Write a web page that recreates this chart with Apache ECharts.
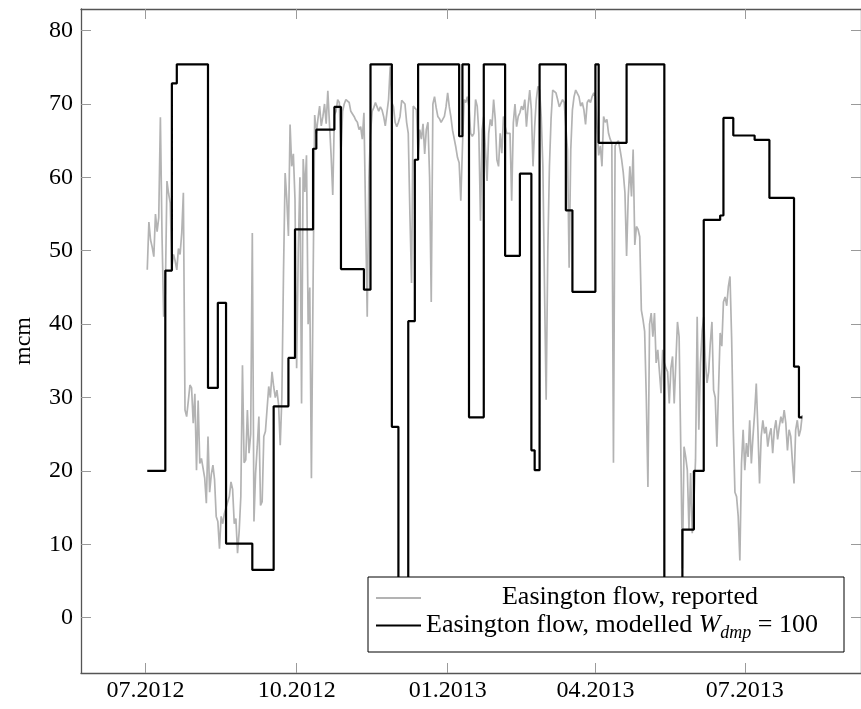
<!DOCTYPE html>
<html><head><meta charset="utf-8">
<script src="https://cdn.jsdelivr.net/npm/echarts@6/dist/echarts.min.js"></script>
<style>html,body{margin:0;padding:0;background:#fff}#c{width:861px;height:709px}</style>
</head><body><div id="c"></div>
<script>
// x values are days counted from 2012-07-01 (day 0)
const tickDays = [0, 92, 184, 274, 365];
const tickLabels = ['07.2012', '10.2012', '01.2013', '04.2013', '07.2013'];
const yTickValues = [0, 10, 20, 30, 40, 50, 60, 70, 80];

// Reported flow: one value per day, starting at day 1
const reportedStartDay = 1;
const reportedValues = [
  47.4, 53.9, 51.5, 50.5, 49.2, 55.0, 52.6, 54.5, 68.2, 52.0,
  41.0, 44.2, 59.5, 57.8, 56.5, 47.8, 49.5, 48.6, 47.4, 50.3,
  49.5, 52.4, 57.9, 28.3, 27.4, 29.5, 31.7, 31.3, 26.5, 30.5,
  20.1, 29.6, 21.0, 21.7, 21.8, 19.0, 15.6, 24.7, 17.1, 19.5,
  20.8, 18.8, 13.8, 13.1, 9.4, 13.8, 12.8, 14.2, 15.0, 15.1,
  16.5, 18.5, 17.5, 12.8, 13.5, 8.8, 11.8, 16.5, 34.4, 21.1,
  21.5, 28.3, 22.4, 25.0, 52.4, 13.1, 19.7, 23.3, 27.4, 15.3,
  15.8, 24.7, 25.4, 25.6, 31.5, 30.0, 33.5, 31.5, 30.0, 31.0,
  29.0, 23.5, 30.0, 47.0, 60.6, 57.0, 52.0, 67.2, 61.5, 63.2,
  57.0, 34.0, 50.0, 60.0, 29.2, 62.5, 58.0, 63.0, 40.0, 45.0,
  19.0, 45.0, 68.5, 66.0, 68.0, 69.7, 67.0, 68.3, 70.0, 67.3,
  71.8, 67.3, 63.0, 57.6, 68.5, 69.0, 70.6, 70.2, 63.3, 69.0,
  70.0, 70.6, 70.5, 70.2, 69.0, 68.8, 68.3, 67.8, 67.5, 66.5,
  66.9, 65.2, 68.8, 55.0, 41.0, 60.0, 66.0, 69.0, 69.5, 70.2,
  69.6, 69.0, 69.6, 69.2, 68.3, 67.0, 66.9, 70.6, 75.1, 70.2,
  69.6, 67.5, 66.9, 67.5, 68.3, 70.5, 70.6, 70.0, 67.5, 66.0,
  55.0, 45.6, 69.7, 69.5, 69.2, 62.9, 66.5, 65.2, 67.3, 63.2,
  66.5, 67.5, 60.0, 43.0, 70.0, 71.0, 69.5, 68.3, 68.0, 67.5,
  67.3, 68.3, 69.6, 71.5, 69.6, 68.2, 66.4, 66.5, 64.1, 62.7,
  62.0, 56.8, 64.0, 70.6, 70.2, 71.0, 69.6, 66.0, 65.6, 66.0,
  70.6, 69.7, 66.0, 54.1, 66.5, 68.3, 68.5, 59.5, 66.0, 67.9,
  67.0, 70.6, 67.9, 62.4, 61.5, 66.0, 63.3, 68.3, 66.9, 66.0,
  66.0, 66.0, 56.8, 67.4, 70.0, 66.9, 68.3, 68.8, 69.7, 69.2,
  70.6, 66.9, 69.7, 71.9, 69.2, 61.5, 66.9, 70.6, 72.4, 71.9,
  68.3, 61.5, 45.0, 29.7, 50.0, 61.5, 68.0, 71.9, 72.1, 71.5,
  70.6, 69.6, 69.7, 70.6, 70.2, 66.9, 63.8, 47.7, 63.8, 69.2,
  71.0, 71.9, 72.1, 71.0, 69.7, 70.2, 69.2, 67.2, 70.2, 70.6,
  70.2, 71.0, 71.5, 71.0, 71.0, 63.0, 64.3, 61.5, 68.3, 67.5,
  67.9, 66.0, 65.2, 64.7, 21.1, 64.3, 64.7, 65.0, 63.8, 62.4,
  60.6, 57.9, 49.3, 57.4, 61.5, 57.4, 63.8, 50.8, 53.3, 52.9,
  51.9, 41.9, 40.6, 39.0, 30.0, 17.8, 40.0, 41.5, 38.3, 41.5,
  34.7, 36.5, 36.5, 30.6, 36.5, 34.7, 34.0, 33.5, 29.2, 34.0,
  35.6, 29.2, 34.7, 40.3, 38.3, 23.3, 6.7, 23.3, 21.9, 20.1,
  12.0, 19.7, 11.5, 15.8, 21.5, 41.0, 25.6, 34.7, 39.0, 41.0,
  35.0, 32.0, 33.5, 37.4, 40.3, 31.0, 30.0, 23.3, 23.3, 38.8,
  37.0, 43.0, 43.7, 42.5, 45.1, 46.5, 38.0, 25.6, 17.1, 16.5,
  13.8, 7.8, 21.0, 25.6, 20.1, 23.8, 21.9, 26.9, 21.0, 24.7,
  27.9, 31.9, 25.6, 18.3, 24.7, 26.9, 25.1, 26.0, 23.3, 24.9,
  25.8, 22.4, 25.6, 26.9, 24.3, 26.0, 27.4, 26.5, 28.3, 26.5,
  22.8, 25.6, 24.7, 21.3, 18.3, 25.6, 26.9, 24.7, 25.6, 27.6
];

// Modelled flow: piecewise constant, value holds from each day until the next
const modelledDays = [1, 12, 16, 19, 38, 44, 49, 65, 78, 87, 91, 102, 104, 115, 119, 133, 137, 150, 154, 160, 164, 166, 191, 193, 197, 206, 219, 228, 235, 237, 240, 256, 260, 274, 276, 293, 316, 327, 334, 340, 350, 352, 358, 371, 380, 395, 398, 400];
const modelledValues = [20.0, 47.3, 72.8, 75.4, 31.3, 42.9, 10.1, 6.5, 28.8, 35.4, 52.9, 63.9, 66.5, 69.6, 47.5, 44.7, 75.4, 26.0, 0.0, 40.4, 62.4, 75.4, 65.6, 75.4, 27.3, 75.4, 49.3, 60.5, 22.8, 20.1, 75.4, 55.5, 44.4, 75.4, 64.7, 75.4, 0.0, 12.0, 20.0, 54.2, 54.8, 68.1, 65.7, 65.1, 57.2, 34.2, 27.3, 27.3];

const seriesNames = ['Easington flow, reported', 'Easington flow, modelled Wdmp = 100'];

const FONT = 'Liberation Serif';
const LF = 26; // legend font size
const reportedData = reportedValues.map((v, i) => [reportedStartDay + i, v]);
const modelledData = modelledDays.map((d, i) => [d, modelledValues[i]]);

const frameLine = { show: true, onZero: false, lineStyle: { color: '#555', width: 1.3 } };
const tickStyle = { color: '#9a9a9a', width: 1 };

const chart = echarts.init(document.getElementById('c'), null, { renderer: 'canvas' });
chart.setOption({
  animation: false,
  backgroundColor: '#fff',
  grid: { left: 81, right: -1, top: 9, bottom: 36, containLabel: false },
  xAxis: [{
    type: 'value', min: -39.36, max: 435.8, position: 'bottom',
    axisLine: frameLine,
    axisTick: { show: true, inside: true, length: 10, lineStyle: tickStyle, customValues: tickDays },
    axisLabel: { show: true, customValues: tickDays, margin: 6, fontFamily: FONT, fontSize: 24, color: '#000',
      formatter: v => { const k = tickDays.indexOf(v); return k >= 0 ? tickLabels[k] : ''; } },
    splitLine: { show: false }
  }, {
    type: 'value', min: -39.36, max: 435.8, position: 'top',
    axisLine: frameLine,
    axisTick: { show: true, inside: true, length: 10, lineStyle: tickStyle, customValues: tickDays },
    axisLabel: { show: false },
    splitLine: { show: false }
  }],
  yAxis: [{
    type: 'value', min: -7.54, max: 82.94, position: 'left',
    name: 'mcm', nameLocation: 'middle', nameGap: 45, nameRotate: 90,
    nameTextStyle: { fontFamily: FONT, fontSize: 24, color: '#000' },
    axisLine: frameLine,
    axisTick: { show: true, inside: true, length: 10, lineStyle: tickStyle, customValues: yTickValues },
    axisLabel: { show: true, customValues: yTickValues, margin: 8, fontFamily: FONT, fontSize: 24, color: '#000' },
    splitLine: { show: false }
  }, {
    type: 'value', min: -7.54, max: 82.94, position: 'right',
    axisLine: frameLine,
    axisTick: { show: true, inside: true, length: 10, lineStyle: tickStyle, customValues: yTickValues },
    axisLabel: { show: false },
    splitLine: { show: false }
  }],
  legend: {
    orient: 'vertical', left: 368, top: 577,
    backgroundColor: '#fff', borderColor: '#000', borderWidth: 1, borderRadius: 0,
    padding: [7, 10, 10, 8],
    icon: 'rect', itemWidth: 45, itemHeight: 2, itemGap: 2,
    data: seriesNames,
    formatter: name => name === seriesNames[0]
      ? '{c|Easington flow, reported}'
      : '{n|Easington flow, modelled }{i|W}{s|dmp}{n| = 100}',
    textStyle: {
      fontFamily: FONT, fontSize: LF, color: '#000',
      rich: {
        c: { fontFamily: FONT, fontSize: LF, width: 408, align: 'center', lineHeight: 28, verticalAlign: 'top' },
        n: { fontFamily: FONT, fontSize: LF, lineHeight: 27, verticalAlign: 'top' },
        i: { fontFamily: FONT, fontSize: LF, fontStyle: 'italic', lineHeight: 27, verticalAlign: 'top' },
        s: { fontFamily: FONT, fontSize: 18, fontStyle: 'italic', lineHeight: 17, padding: [12, 0, 0, 0], verticalAlign: 'top' }
      }
    }
  },
  series: [{
    name: seriesNames[0], type: 'line', data: reportedData, symbol: 'none', showSymbol: false,
    lineStyle: { color: '#b3b3b3', width: 1.7 }, itemStyle: { color: '#b3b3b3' }, z: 2
  }, {
    name: seriesNames[1], type: 'line', data: modelledData, step: 'end', symbol: 'none', showSymbol: false,
    lineStyle: { color: '#000', width: 2.2 }, itemStyle: { color: '#000' }, z: 3
  }]
});
</script>
</body></html>
